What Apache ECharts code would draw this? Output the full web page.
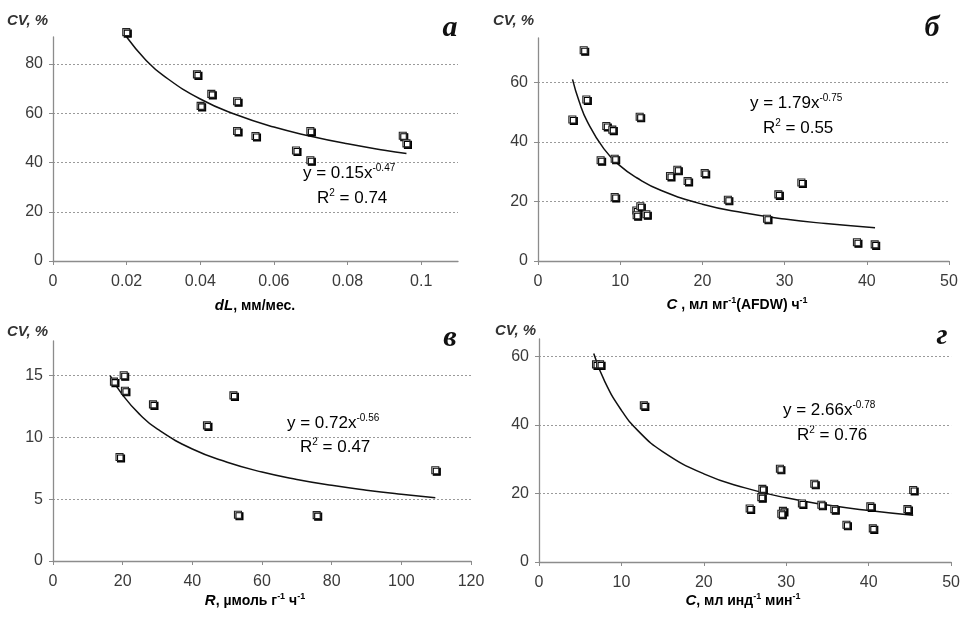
<!DOCTYPE html>
<html><head><meta charset="utf-8">
<script src="https://cdn.jsdelivr.net/npm/echarts@6/dist/echarts.min.js"></script>
<style>html,body{margin:0;padding:0;background:#fff}#c{width:963px;height:617px}</style>
</head><body><div id="c"></div>
<script>
// ---- data ----
const pointsA = [[0.0199,93.0],[0.0391,75.8],[0.043,67.9],[0.0401,63.0],[0.050,64.9],[0.050,52.8],[0.055,50.8],[0.066,44.9],[0.0699,52.8],[0.0699,40.9],[0.095,50.9],[0.096,47.8]];
const trendA = [[0.02,91.0],[0.025,82.0],[0.03,75.3],[0.04,65.8],[0.05,59.3],[0.06,54.4],[0.07,50.7],[0.08,47.6],[0.09,45.0],[0.096,43.7]];
const pointsB = [[5.56,70.9],[5.88,54.3],[4.18,47.6],[12.37,48.5],[8.31,45.4],[9.04,44.2],[7.62,33.9],[9.33,34.4],[9.33,21.5],[11.96,17.0],[12.45,18.4],[12.0,15.4],[13.18,15.7],[16.06,28.6],[16.95,30.7],[18.2,26.9],[20.28,29.6],[23.1,20.6],[27.86,14.2],[29.24,22.4],[32.04,26.4],[38.8,6.3],[40.96,5.6]];
const trendB = [[4.2,61.1],[5,53.7],[6,46.9],[8,37.8],[10,32.0],[12,28.0],[15,23.7],[20,19.1],[25,16.2],[30,14.1],[35,12.6],[41,11.2]];
const pointsC = [[17.5,14.51],[20.3,15.03],[20.65,13.78],[19.1,8.42],[28.7,12.67],[44.2,10.97],[51.8,13.40],[53.1,3.74],[75.7,3.71],[109.75,7.34]];
const trendC = [[16.4,15.0],[20,13.42],[25,11.83],[30,10.66],[40,9.06],[50,7.99],[60,7.20],[70,6.60],[80,6.12],[90,5.73],[100,5.40],[109.75,5.12]];
const pointsD = [[6.92,57.6],[7.41,57.6],[12.72,45.65],[29.23,27.2],[33.4,22.8],[27.1,21.3],[26.97,18.9],[45.4,21.0],[25.56,15.6],[29.6,14.9],[29.4,14.05],[31.9,17.06],[34.26,16.7],[35.83,15.4],[37.3,10.86],[40.2,16.2],[40.5,9.8],[44.7,15.4]];
const trendD = [[6.64,60.8],[8,52.5],[10,44.2],[12,38.3],[15,32.2],[20,25.7],[25,21.6],[30,18.7],[35,16.6],[40,15.0],[45.4,13.6]];

const panelLetters = ['а','б','в','г'];
const yTitle = 'CV, %';
const equations = [['0.15x','-0.47','0.74'],['1.79x','-0.75','0.55'],['0.72x','-0.56','0.47'],['2.66x','-0.78','0.76']];
const xAxes = [
  {min:0,max:0.11,interval:0.02},
  {min:0,max:50,interval:10},
  {min:0,max:120,interval:20},
  {min:0,max:50,interval:10}
];
const yAxes = [
  {min:0,max:91,interval:20},
  {min:0,max:75,interval:20},
  {min:0,max:17.8,interval:5},
  {min:0,max:65,interval:20}
];
const xTitles = [
  '{bi|dL}{b|, мм/мес.}',
  '{bi|C}{b| , мл мг}{sup|-1}{b|(AFDW) ч}{sup|-1}',
  '{bi|R}{b|, µмоль г}{sup|-1}{b| ч}{sup|-1}',
  '{bi|C}{b|, мл инд}{sup|-1}{b| мин}{sup|-1}'
];
// ---- layout ----
const grids = [
  {left:53, top:37, width:405, height:224},
  {left:538, top:38, width:411, height:223},
  {left:53, top:341, width:418, height:220},
  {left:539, top:339, width:414, height:223}
];
const txt = '#3a3a3a';
const font = 'Liberation Sans, Arial, sans-serif';

const chart = echarts.init(document.getElementById('c'));
const xA = xAxes.map((a,i)=>({
  type:'value', gridIndex:i, min:a.min, max:a.max, interval:a.interval,
  axisLine:{show:true,onZero:false,lineStyle:{color:'#8c8c8c',width:1.3}},
  axisTick:{show:true,length:4,lineStyle:{color:'#8c8c8c'}},
  axisLabel:{showMaxLabel: i!==0, color:txt,fontSize:16,fontFamily:font,margin:13},
  splitLine:{show:false}
}));
const yA = yAxes.map((a,i)=>({
  type:'value', gridIndex:i, min:a.min, max:a.max, interval:a.interval,
  axisLine:{show:true,onZero:false,lineStyle:{color:'#8c8c8c',width:1.3}},
  axisTick:{show:true,length:4,lineStyle:{color:'#8c8c8c'}},
  axisLabel:{showMaxLabel:false,color:txt,fontSize:16,fontFamily:font,margin:10},
  splitLine:{show:true,showMinLine:false,showMaxLine:false,lineStyle:{color:'#9a9a9a',type:[2,2],width:1}}
}));
const pts = [pointsA,pointsB,pointsC,pointsD];
const trs = [trendA,trendB,trendC,trendD];
const series = [];
pts.forEach((p,i)=>{
  series.push({type:'line',xAxisIndex:i,yAxisIndex:i,data:trs[i],smooth:true,showSymbol:false,symbol:'none',
    lineStyle:{color:'#111',width:1.5},clip:false,silent:true,z:2});
  series.push({type:'scatter',xAxisIndex:i,yAxisIndex:i,data:p,symbol:'rect',symbolSize:7,clip:false,
    itemStyle:{color:'#fff',borderColor:'#222',borderWidth:1.1,shadowColor:'#000',shadowOffsetX:1.5,shadowOffsetY:1.5,shadowBlur:0,opacity:1},z:3});
});
const eqPos = [[303,173,317,198],[750,103,763,128],[287,423,300,447],[783,410,797,435]];
const titlePos = [[7,22],[493,22],[7,333],[495,332]];
const letterPos = [[450,28],[932,28],[450,338],[942,336]];
const xTitlePos = [[255,306],[737,305],[255,601],[743,601]];
const graphic = [];
const rich = {
  b:{fontWeight:'bold',fontSize:14,fontFamily:font,color:'#333'},
  bi:{fontWeight:'bold',fontStyle:'italic',fontSize:15,fontFamily:font,color:'#333'},
  sup:{fontWeight:'bold',fontSize:9,fontFamily:font,color:'#333',verticalAlign:'top',lineHeight:18},
  t:{fontSize:17,fontFamily:font,color:'#333',lineHeight:19},
  s:{fontSize:10,fontFamily:font,color:'#333',verticalAlign:'top',lineHeight:19}
};
for(let i=0;i<4;i++){
  graphic.push({type:'text',left:titlePos[i][0],top:titlePos[i][1]-9,style:{text:yTitle,font:'italic bold 15px '+font,fill:'#333'}});
  graphic.push({type:'text',x:letterPos[i][0],y:letterPos[i][1],style:{text:panelLetters[i],font:'italic bold 30px "Liberation Serif", serif',fill:'#111',align:'center',verticalAlign:'middle'}});
  graphic.push({type:'text',x:xTitlePos[i][0],y:xTitlePos[i][1],style:{text:xTitles[i],rich:rich,align:'center',verticalAlign:'middle'}});
  const e = equations[i];
  graphic.push({type:'text',x:eqPos[i][0],y:eqPos[i][1],style:{text:'{t|y = '+e[0]+'}{s|'+e[1]+'}',rich:rich,verticalAlign:'middle'}});
  graphic.push({type:'text',x:eqPos[i][2],y:eqPos[i][3],style:{text:'{t|R}{s|2}{t| = '+e[2]+'}',rich:rich,verticalAlign:'middle'}});
}
chart.setOption({
  animation:false,
  backgroundColor:'#fff',
  grid:grids.map(g=>Object.assign({containLabel:false},g)),
  xAxis:xA, yAxis:yA, series:series, graphic:graphic
});
</script></body></html>
